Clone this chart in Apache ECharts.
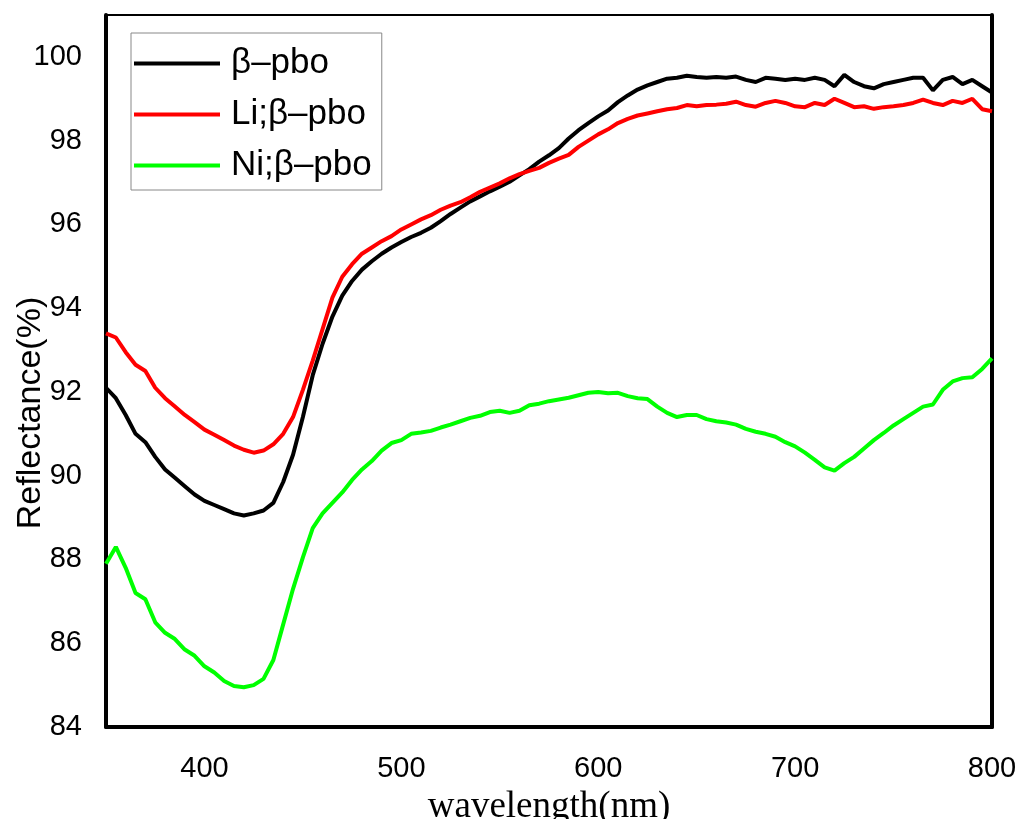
<!DOCTYPE html>
<html>
<head>
<meta charset="utf-8">
<script src="https://cdn.jsdelivr.net/npm/echarts@6/dist/echarts.min.js"></script>
<style>
  html, body { margin: 0; padding: 0; background: #fff; }
  #chart { width: 1020px; height: 819px; }
</style>
</head>
<body>
<div id="chart"></div>
<script>
// wavelength grid, 5 nm steps
const wavelength = []
for (let w = 350; w <= 800; w += 5) wavelength.push(w)

const pbo = [
  92.1, 91.85, 91.45, 91.0, 90.8, 90.45, 90.15, 89.95, 89.75, 89.55,
  89.4, 89.3, 89.2, 89.1, 89.05, 89.1, 89.17, 89.35, 89.85, 90.5,
  91.4, 92.4, 93.15, 93.8, 94.3, 94.65, 94.92, 95.12, 95.3, 95.45,
  95.58, 95.7, 95.8, 95.92, 96.08, 96.25, 96.4, 96.55, 96.67, 96.79,
  96.9, 97.02, 97.17, 97.32, 97.5, 97.65, 97.82, 98.05, 98.25, 98.42,
  98.58, 98.72, 98.92, 99.08, 99.22, 99.32, 99.4, 99.48, 99.5, 99.55,
  99.52, 99.5, 99.52, 99.5, 99.53, 99.45, 99.4, 99.5, 99.48, 99.45,
  99.48, 99.45, 99.5, 99.45, 99.3, 99.57, 99.4, 99.3, 99.25, 99.35,
  99.4, 99.45, 99.5, 99.5, 99.2, 99.45, 99.52, 99.35, 99.45, 99.3,
  99.15
]

const liPbo = [
  93.4, 93.3, 92.95, 92.65, 92.5, 92.1, 91.85, 91.65, 91.45, 91.28,
  91.1, 90.98, 90.85, 90.72, 90.62, 90.55, 90.6, 90.75, 91.0, 91.4,
  92.05, 92.75, 93.5, 94.25, 94.75, 95.05, 95.3, 95.45, 95.6, 95.72,
  95.88, 96.0, 96.12, 96.22, 96.35, 96.45, 96.53, 96.65, 96.78, 96.88,
  96.98, 97.1, 97.2, 97.28, 97.35, 97.47, 97.57, 97.66, 97.85, 98.0,
  98.15, 98.27, 98.42, 98.52, 98.6, 98.65, 98.7, 98.75, 98.78, 98.85,
  98.82, 98.85, 98.86, 98.88, 98.93, 98.85, 98.81, 98.9, 98.95, 98.9,
  98.82, 98.8, 98.9, 98.85, 99.0, 98.9, 98.8, 98.82, 98.76, 98.8,
  98.82, 98.85, 98.9, 98.98, 98.9, 98.85, 98.95, 98.9, 99.0, 98.75,
  98.7
]

const niPbo = [
  87.9, 88.3, 87.8, 87.2, 87.05, 86.5, 86.25, 86.1, 85.85, 85.7,
  85.45, 85.3, 85.1, 84.98, 84.95, 85.0, 85.15, 85.6, 86.45, 87.3,
  88.05, 88.75, 89.1, 89.35, 89.6, 89.9, 90.15, 90.35, 90.6, 90.78,
  90.85, 91.0, 91.03, 91.07, 91.15, 91.22, 91.3, 91.38, 91.43, 91.52,
  91.55, 91.5, 91.55, 91.68, 91.72, 91.78, 91.82, 91.86, 91.92, 91.98,
  92.0, 91.97, 91.98, 91.9, 91.85, 91.83, 91.65, 91.5, 91.4, 91.45,
  91.45, 91.35, 91.3, 91.27, 91.22, 91.12, 91.05, 91.0, 90.93, 90.8,
  90.7, 90.55, 90.38, 90.2, 90.12, 90.3, 90.45, 90.65, 90.85, 91.02,
  91.2, 91.35, 91.5, 91.65, 91.7, 92.05, 92.25, 92.33, 92.35, 92.55,
  92.8
]

const names = ['\u03b2\u2013pbo', 'Li;\u03b2\u2013pbo', 'Ni;\u03b2\u2013pbo']
const colors = ['#000000', '#ff0000', '#00ff00']

const pair = (ys) => wavelength.map((w, i) => [w, ys[i]])

const chart = echarts.init(document.getElementById('chart'))

const makeSeries = (name, ys, color) => ({
  name,
  type: 'line',
  data: pair(ys),
  showSymbol: false,
  symbol: 'none',
  animation: false,
  lineStyle: { color, width: 4 },
  itemStyle: { color }
})

chart.setOption({
  backgroundColor: '#fff',
  animation: false,
  grid: {
    left: 106,
    right: 28,
    top: 15,
    bottom: 92,
    outerBoundsMode: 'none',
    containLabel: false,
    show: true,
    borderColor: '#000',
    borderWidth: 2
  },
  legend: {
    orient: 'vertical',
    left: 131,
    top: 33,
    icon: 'rect',
    itemWidth: 86,
    itemHeight: 4,
    itemGap: 16,
    padding: [13, 10, 7, 3],
    borderColor: '#888',
    borderWidth: 1,
    data: names,
    textStyle: {
      fontFamily: 'Liberation Sans',
      fontSize: 35,
      lineHeight: 30,
      color: '#000',
      padding: [0, 0, 0, 6]
    }
  },
  xAxis: {
    type: 'value',
    min: 350,
    max: 800,
    interval: 50,
    name: 'wavelength(nm)',
    nameLocation: 'middle',
    nameGap: 62,
    nameTextStyle: { fontFamily: 'Liberation Serif', fontSize: 37, color: '#000' },
    axisLine: { lineStyle: { color: '#000', width: 4 } },
    axisTick: { show: false },
    splitLine: { show: false },
    axisLabel: {
      fontFamily: 'Liberation Sans',
      fontSize: 29,
      color: '#000',
      margin: 27,
      formatter: (v) => (v % 100 === 0 ? String(v) : '')
    }
  },
  yAxis: [{
    type: 'value',
    min: 84,
    max: 101,
    interval: 2,
    name: 'Reflectance(%)',
    nameLocation: 'middle',
    nameGap: 58,
    nameMoveOverlap: false,
    nameTextStyle: {
      fontFamily: 'Liberation Sans',
      fontSize: 34,
      color: '#000',
      padding: [0, 84, 0, 0]
    },
    axisLine: { show: true, lineStyle: { color: '#000', width: 4 } },
    axisTick: { show: false },
    splitLine: { show: false },
    axisLabel: {
      fontFamily: 'Liberation Sans',
      fontSize: 29,
      color: '#000',
      margin: 24,
      formatter: (v) => (v % 2 === 0 ? String(v) : '')
    }
  }, {
    type: 'value',
    position: 'right',
    min: 84,
    max: 101,
    axisLine: { show: true, lineStyle: { color: '#000', width: 4 } },
    axisTick: { show: false },
    axisLabel: { show: false },
    splitLine: { show: false }
  }],
  series: [
    makeSeries(names[0], pbo, colors[0]),
    makeSeries(names[1], liPbo, colors[1]),
    makeSeries(names[2], niPbo, colors[2])
  ]
})
</script>
</body>
</html>
